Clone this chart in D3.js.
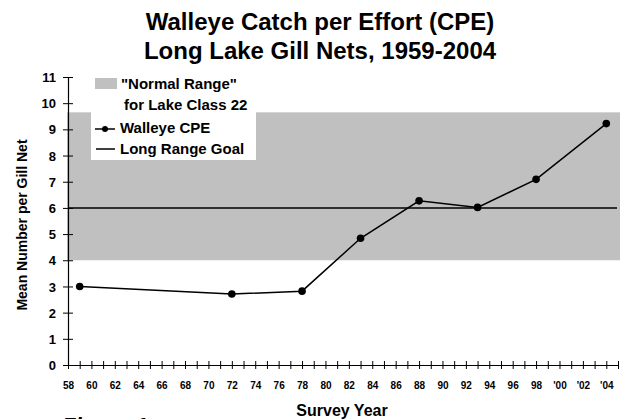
<!DOCTYPE html>
<meta charset="utf-8">
<title>Walleye Catch per Effort</title>
<script src="https://d3js.org/d3.v7.min.js"></script>
<style>
body { margin: 0; font-family: "Liberation Sans", Arial, sans-serif; background: #fff; }
svg text { font-weight: bold; fill: #000; }
</style>
<body>
<div id="vis"></div>
<script>

var years = [59, 72, 78, 83, 88, 93, 98, 104];
var cpe = [3.0, 2.71, 2.82, 4.84, 6.27, 6.02, 7.09, 9.22];
var normalRange = [4.0, 9.65];
var goal = 6;
var yTicks = [0, 1, 2, 3, 4, 5, 6, 7, 8, 9, 10, 11];
var xLabels = ["58", "60", "62", "64", "66", "68", "70", "72", "74", "76", "78", "80",
  "82", "84", "86", "88", "90", "92", "94", "96", "98", "'00", "'02", "'04"];

var width = 626, height = 419;

var x = d3.scaleLinear().domain([58, 105]).range([68, 618]);
var y = d3.scaleLinear().domain([0, 11]).range([365, 77]);

var svg = d3.select("#vis").append("svg")
  .attr("width", width)
  .attr("height", height);

// normal range band
svg.append("rect")
  .attr("x", x(58) - 1)
  .attr("width", 620 - x(58) + 1)
  .attr("y", y(normalRange[1]))
  .attr("height", y(normalRange[0]) - y(normalRange[1]))
  .style("fill", "#c0c0c0");

// long range goal
svg.append("line")
  .attr("x1", x(58)).attr("x2", 617)
  .attr("y1", y(goal)).attr("y2", y(goal))
  .style("stroke", "#000").style("stroke-width", 1.5);

// axes
var yAxis = d3.axisLeft(y).tickValues(yTicks).tickSizeInner(5).tickSizeOuter(0);
var gy = svg.append("g").attr("transform", "translate(" + x(58) + ",0)").call(yAxis);
gy.selectAll(".tick line").attr("x2", 5).attr("x1", -5);
gy.selectAll("text").style("font-size", "13px").attr("dy", "0.35em").attr("x", -12);

var xAxis = d3.axisBottom(x).tickValues(d3.range(58, 106)).tickFormat(function(d) {
  return (d % 2 === 0 && (d - 58) / 2 < xLabels.length) ? xLabels[(d - 58) / 2] : "";
}).tickSizeOuter(0);
var gx = svg.append("g").attr("transform", "translate(0," + y(0) + ")").call(xAxis);
gx.selectAll(".tick line").attr("y1", -4).attr("y2", 4);
gx.selectAll("text").style("font-size", "10px").attr("y", 24).attr("dy", 0);

svg.selectAll(".domain").style("stroke", "#000").style("stroke-width", 1.2);

// walleye CPE line
var line = d3.line().x(function(d, i) { return x(years[i]); }).y(function(d) { return y(d); });
svg.append("path")
  .datum(cpe)
  .attr("d", line)
  .style("fill", "none").style("stroke", "#000").style("stroke-width", 1.5);

svg.selectAll(".pt")
  .data(cpe)
  .enter().append("circle")
  .attr("class", "pt")
  .attr("cx", function(d, i) { return x(years[i]); })
  .attr("cy", function(d) { return y(d); })
  .attr("r", 3.8)
  .style("fill", "#000");

// legend
var lg = svg.append("g");
lg.append("rect").attr("x", 91).attr("y", 76).attr("width", 165).attr("height", 84).style("fill", "#fff");
lg.append("rect").attr("x", 95).attr("y", 78).attr("width", 22).attr("height", 11).style("fill", "#c0c0c0");
lg.append("text").attr("x", 121).attr("y", 89).style("font-size", "15px").text("\"Normal Range\"");
lg.append("text").attr("x", 124).attr("y", 110).style("font-size", "15px").text("for Lake Class 22");
lg.append("line").attr("x1", 95).attr("x2", 115).attr("y1", 129).attr("y2", 129)
  .style("stroke", "#000").style("stroke-width", 1.5);
lg.append("circle").attr("cx", 105).attr("cy", 129).attr("r", 3).style("fill", "#000");
lg.append("text").attr("x", 120).attr("y", 133).style("font-size", "15px").text("Walleye CPE");
lg.append("line").attr("x1", 96).attr("x2", 115).attr("y1", 149).attr("y2", 149)
  .style("stroke", "#000").style("stroke-width", 1.5);
lg.append("text").attr("x", 120).attr("y", 154).style("font-size", "15px").text("Long Range Goal");

// titles
svg.append("text").attr("x", 320).attr("y", 30).attr("text-anchor", "middle")
  .style("font-size", "24px").text("Walleye Catch per Effort (CPE)");
svg.append("text").attr("x", 320).attr("y", 59).attr("text-anchor", "middle")
  .style("font-size", "24px").text("Long Lake Gill Nets, 1959-2004");

svg.append("text")
  .attr("transform", "translate(27,225) rotate(-90)")
  .attr("text-anchor", "middle")
  .style("font-size", "14px")
  .text("Mean Number per Gill Net");

svg.append("text").attr("x", 342).attr("y", 416).attr("text-anchor", "middle")
  .style("font-size", "16px").text("Survey Year");

svg.append("text").attr("x", 62).attr("y", 433)
  .style("font-size", "22px").style("font-style", "italic").text("Figure 1");

</script>
</body>
